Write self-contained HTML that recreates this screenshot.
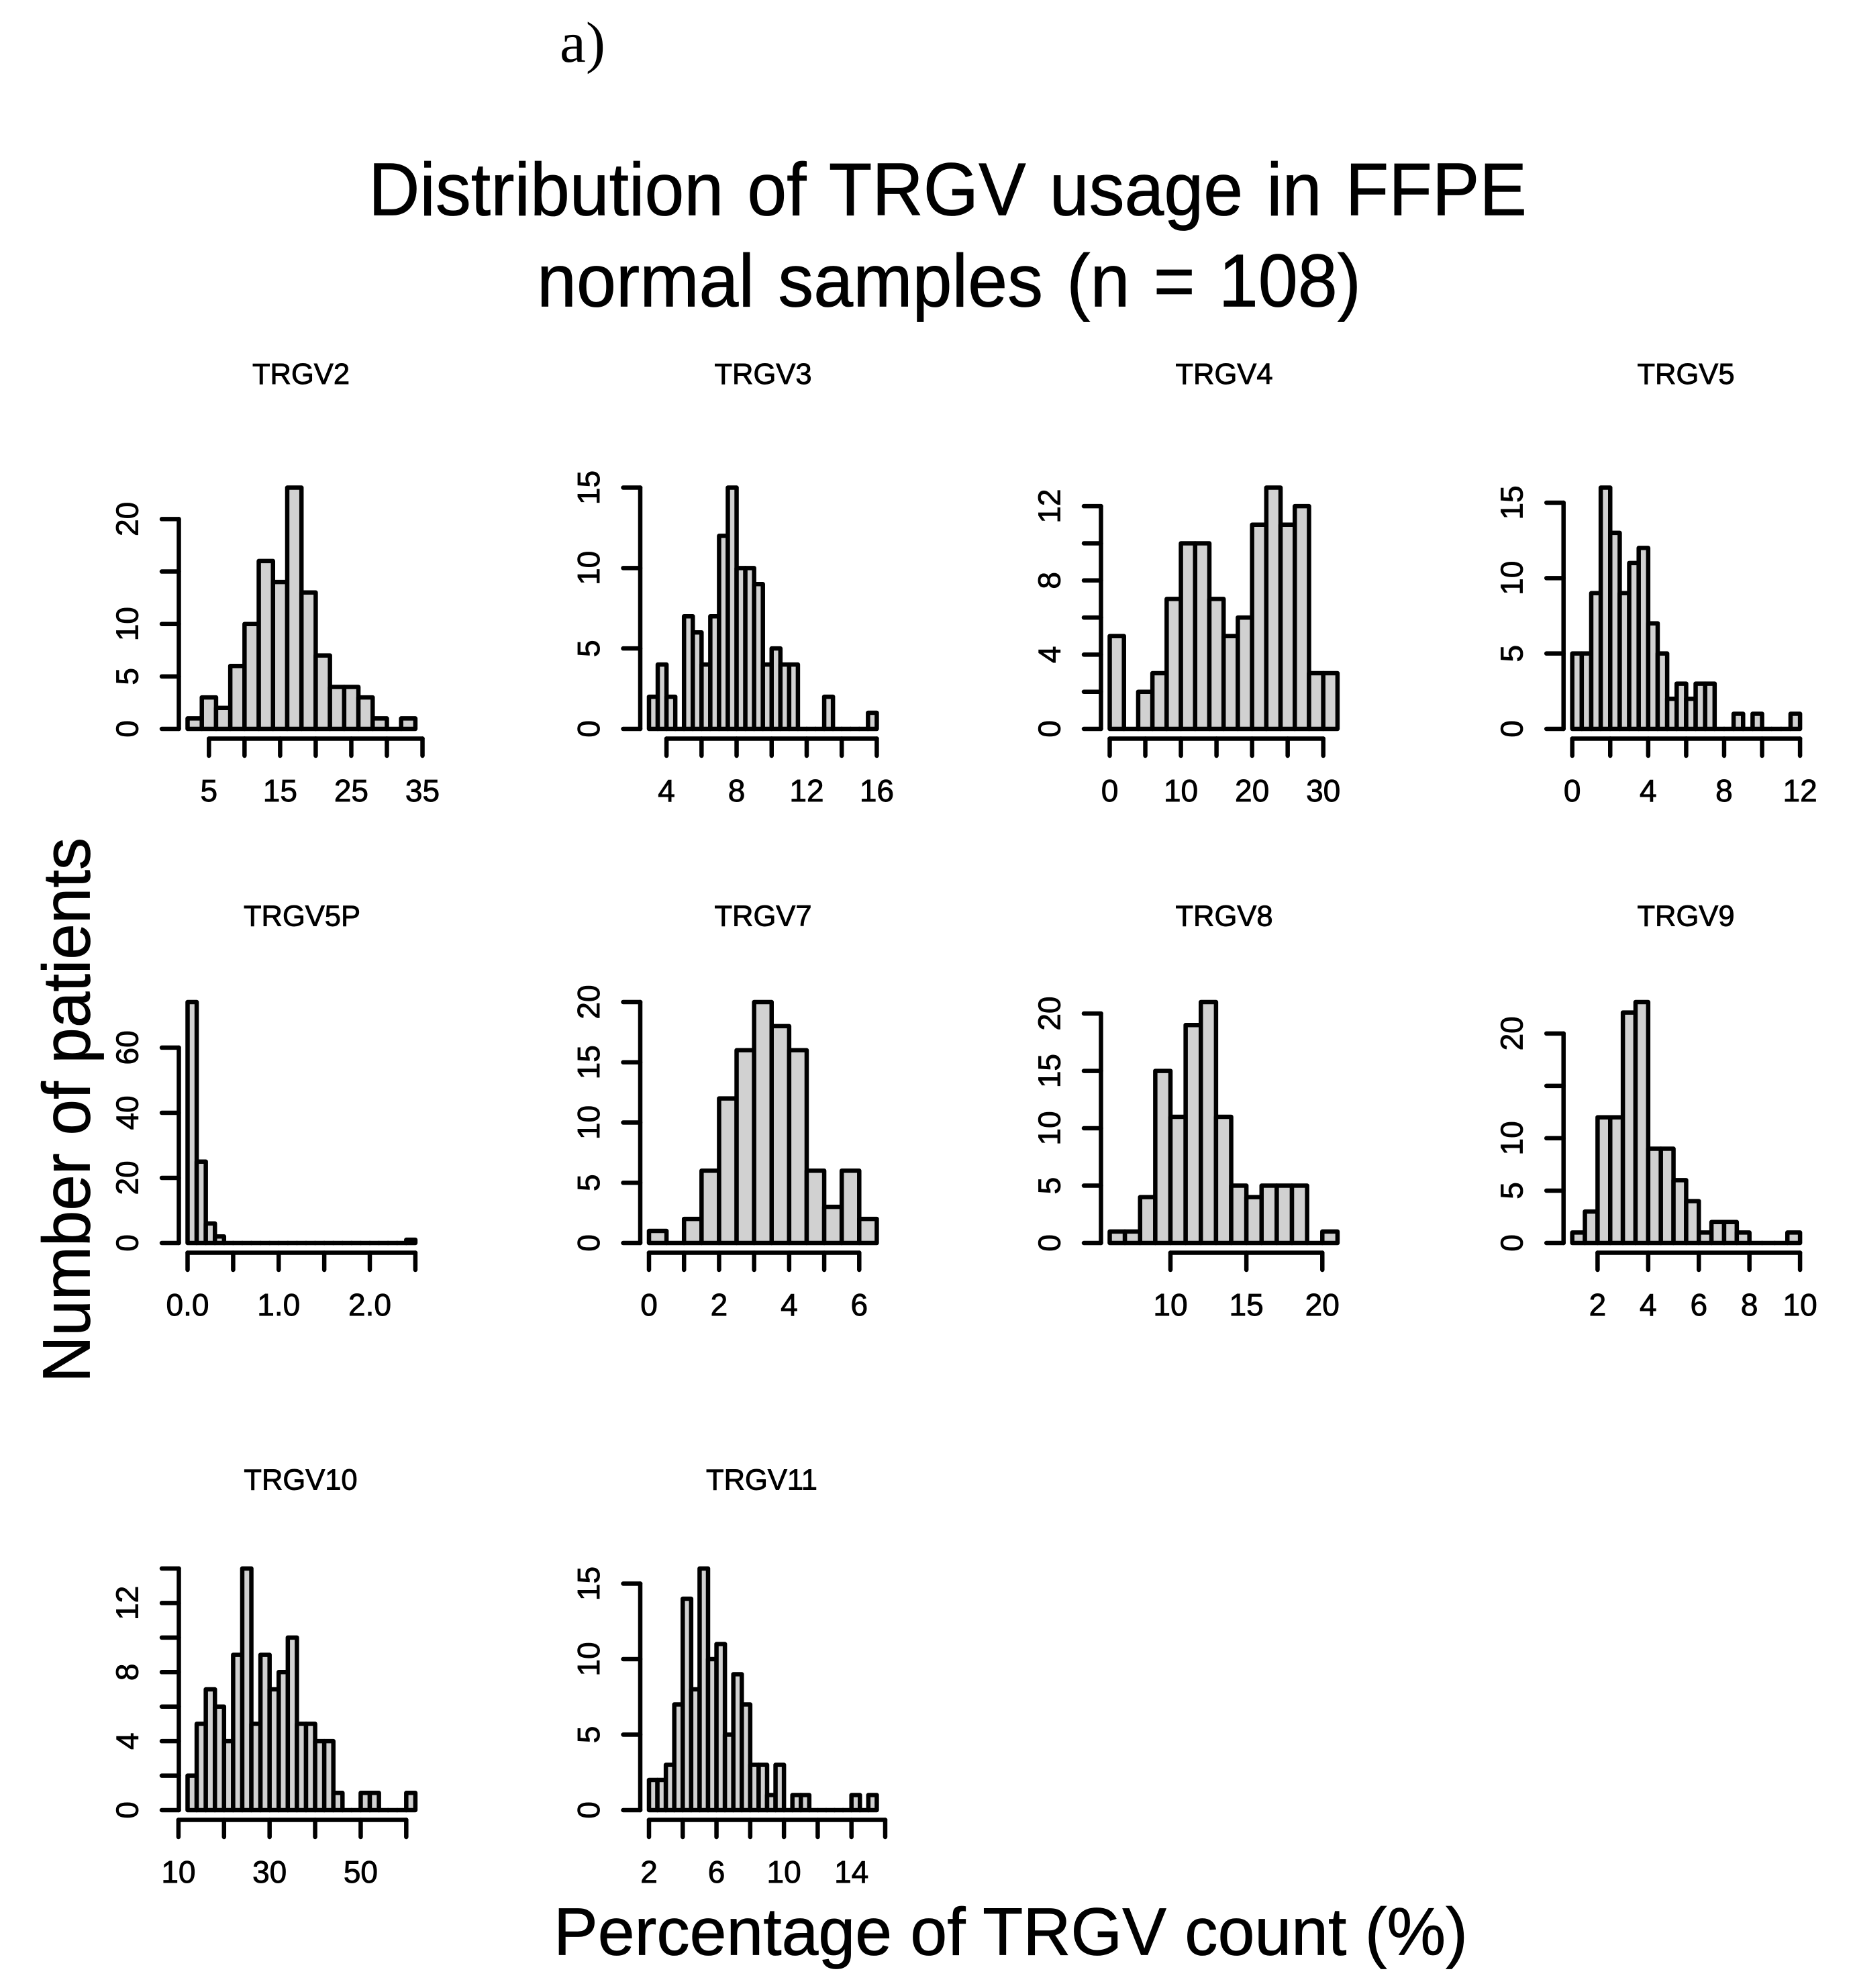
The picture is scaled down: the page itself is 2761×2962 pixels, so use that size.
<!DOCTYPE html>
<html lang="en">
<head>
<meta charset="utf-8">
<title>Distribution of TRGV usage in FFPE normal samples</title>
<style>
html,body{margin:0;padding:0;background:#fff;}
svg{display:block;}
text{font-family:"Liberation Sans",Arial,sans-serif;fill:#000;}
</style>
</head>
<body>
<svg id="chart" xmlns="http://www.w3.org/2000/svg" width="2761" height="2962" viewBox="0 0 2761 2962">
  <rect x="0" y="0" width="2761" height="2962" fill="#ffffff"/>
  <text x="834" y="92" style="font-family:'Liberation Serif',serif;font-size:86px" textLength="68" lengthAdjust="spacingAndGlyphs">a)</text>
  <text x="549" y="320.5" font-size="111" style="word-spacing:6px" textLength="1726" lengthAdjust="spacingAndGlyphs" stroke="#000" stroke-width="0.8">Distribution of TRGV usage in FFPE</text>
  <text x="800" y="456.5" font-size="111" style="word-spacing:6px" textLength="1228" lengthAdjust="spacingAndGlyphs" stroke="#000" stroke-width="0.8">normal samples (n = 108)</text>
  <text transform="translate(133.5,2060) rotate(-90)" font-size="100" textLength="812" lengthAdjust="spacingAndGlyphs" stroke="#000" stroke-width="0.8">Number of patients</text>
  <text x="825" y="2912.5" font-size="100" textLength="1362" lengthAdjust="spacingAndGlyphs" stroke="#000" stroke-width="0.8">Percentage of TRGV count (%)</text>
  <g id="panels"></g>
</svg>
<script>
const panelNames = ["TRGV2","TRGV3","TRGV4","TRGV5","TRGV5P","TRGV7","TRGV8","TRGV9","TRGV10","TRGV11"];
const binStarts = [2,3,0,0,0,0,6,1,12,2];
const binWidths = [2,0.5,2,0.5,0.1,0.5,1,0.5,2,0.5];

const trgv2Counts = [1,3,2,6,10,16,14,23,13,7,4,4,3,1,0,1];
const trgv3Counts = [2,4,2,0,7,6,4,7,12,15,10,10,9,4,5,4,4,0,0,0,2,0,0,0,0,1];
const trgv4Counts = [5,0,2,3,7,10,10,7,5,6,11,13,11,12,3,3];
const trgv5Counts = [5,5,9,16,13,9,11,12,7,5,2,3,2,3,3,0,0,1,0,1,0,0,0,1];
const trgv5pCounts = [74,25,6,2,0,0,0,0,0,0,0,0,0,0,0,0,0,0,0,0,0,0,0,0,1];
const trgv7Counts = [1,0,2,6,12,16,20,18,16,6,3,6,2];
const trgv8Counts = [1,1,4,15,11,19,21,11,5,4,5,5,5,0,1];
const trgv9Counts = [1,3,12,12,22,23,9,9,6,4,1,2,2,1,0,0,0,1];
const trgv10Counts = [2,5,7,6,4,9,14,5,9,7,8,10,5,5,4,4,1,0,0,1,1,0,0,0,1];
const trgv11Counts = [2,2,3,7,14,8,16,10,11,5,9,7,3,3,1,3,0,1,1,0,0,0,0,0,1,0,1];
const panelCounts = [trgv2Counts,trgv3Counts,trgv4Counts,trgv5Counts,trgv5pCounts,trgv7Counts,trgv8Counts,trgv9Counts,trgv10Counts,trgv11Counts];

const xTickValues = [
  [5,10,15,20,25,30,35],
  [4,6,8,10,12,14,16],
  [0,5,10,15,20,25,30],
  [0,2,4,6,8,10,12],
  [0,0.5,1,1.5,2,2.5],
  [0,1,2,3,4,5,6],
  [10,15,20],
  [2,4,6,8,10],
  [10,20,30,40,50,60],
  [2,4,6,8,10,12,14,16]
];
const xTickLabels = [
  ["5","15","25","35"],
  ["4","8","12","16"],
  ["0","10","20","30"],
  ["0","4","8","12"],
  ["0.0","1.0","2.0"],
  ["0","2","4","6"],
  ["10","15","20"],
  ["2","4","6","8","10"],
  ["10","30","50"],
  ["2","6","10","14"]
];
const yTickValues = [
  [0,5,10,15,20],
  [0,5,10,15],
  [0,2,4,6,8,10,12],
  [0,5,10,15],
  [0,20,40,60],
  [0,5,10,15,20],
  [0,5,10,15,20],
  [0,5,10,15,20],
  [0,2,4,6,8,10,12,14],
  [0,5,10,15]
];
const yTickLabels = [
  ["0","5","10","20"],
  ["0","5","10","15"],
  ["0","4","8","12"],
  ["0","5","10","15"],
  ["0","20","40","60"],
  ["0","5","10","15","20"],
  ["0","5","10","15","20"],
  ["0","5","10","20"],
  ["0","4","8","12"],
  ["0","5","10","15"]
];

// Page layout of the small-multiple grid
const columnLefts = [279.5,967,1653.5,2342.7];
const rowBaselines = [1086,1852,2697];
const rowTops = [726.5,1493,2337];
const rowTitleBaselines = [572,1379.5,2219.5];
const titleCenters = [448.5,1137,1824,2512,450,1137,1824,2512,448,1135];
const plotWidth = 339.4;

const NS = "http://www.w3.org/2000/svg";
const LINE = 6.5;
const TICK = 25.5;
const TEXT_STROKE = 0.9;
const root = document.getElementById("panels");

function make(tag, attrs, parent) {
  const el = document.createElementNS(NS, tag);
  for (const k in attrs) el.setAttribute(k, attrs[k]);
  parent.appendChild(el);
  return el;
}

function drawPanel(i) {
  const col = i % 4;
  const row = Math.floor(i / 4);
  const counts = panelCounts[i];
  const left = columnLefts[col];
  const base = rowBaselines[row];
  const top = rowTops[row];
  const start = binStarts[i];
  const width = binWidths[i];
  const xUnit = plotWidth / (counts.length * width);
  const yUnit = (base - top) / Math.max.apply(null, counts);
  const xScale = function (v) { return left + (v - start) * xUnit; };
  const yScale = function (v) { return base - v * yUnit; };

  const g = make("g", {}, root);
  
  

  const title = make("text", {x: titleCenters[i], y: rowTitleBaselines[row], "font-size": 43.5, "text-anchor": "middle", stroke: "#000", "stroke-width": TEXT_STROKE}, g);
  title.textContent = panelNames[i];
  
  

  counts.forEach(function (c, b) {
    const x0 = xScale(start + b * width);
    const x1 = xScale(start + (b + 1) * width);
    const y1 = yScale(c);
    const bar = make("path", {
      d: "M" + x0 + " " + base + "V" + y1 + "H" + x1 + "V" + base + "Z",
      fill: "#d1d1d1", stroke: "#000", "stroke-width": LINE, "stroke-linejoin": "round"
    }, g);
    
    
  });

  // X axis
  const xAxisY = base + 14.5;
  const xTicks = xTickValues[i];
  const xAxis = make("line", {
    x1: xScale(xTicks[0]), x2: xScale(xTicks[xTicks.length - 1]),
    y1: xAxisY, y2: xAxisY, stroke: "#000", "stroke-width": LINE, "stroke-linecap": "round"
  }, g);
  
  
  xTicks.forEach(function (v) {
    const t = make("line", {x1: xScale(v), x2: xScale(v), y1: xAxisY, y2: xAxisY + TICK, stroke: "#000", "stroke-width": LINE, "stroke-linecap": "round"}, g);
    
    
  });
  xTickLabels[i].forEach(function (s) {
    const t = make("text", {x: xScale(parseFloat(s)), y: base + 108, "font-size": 46, "text-anchor": "middle", stroke: "#000", "stroke-width": TEXT_STROKE}, g);
    t.textContent = s;
    
    
  });

  // Y axis
  const yAxisX = left - 13;
  const yTicks = yTickValues[i];
  const yAxis = make("line", {
    x1: yAxisX, x2: yAxisX,
    y1: yScale(yTicks[0]), y2: yScale(yTicks[yTicks.length - 1]),
    stroke: "#000", "stroke-width": LINE, "stroke-linecap": "round"
  }, g);
  
  
  yTicks.forEach(function (v) {
    const t = make("line", {x1: yAxisX, x2: yAxisX - TICK, y1: yScale(v), y2: yScale(v), stroke: "#000", "stroke-width": LINE, "stroke-linecap": "round"}, g);
    
    
  });
  yTickLabels[i].forEach(function (s) {
    const lx = yAxisX - 61;
    const ly = yScale(parseFloat(s));
    const t = make("text", {transform: "translate(" + lx + "," + ly + ") rotate(-90)", "font-size": 46, "text-anchor": "middle", stroke: "#000", "stroke-width": TEXT_STROKE}, g);
    t.textContent = s;
    
    
  });
}

panelNames.forEach(function (n, i) { drawPanel(i); });
</script>
</body>
</html>
